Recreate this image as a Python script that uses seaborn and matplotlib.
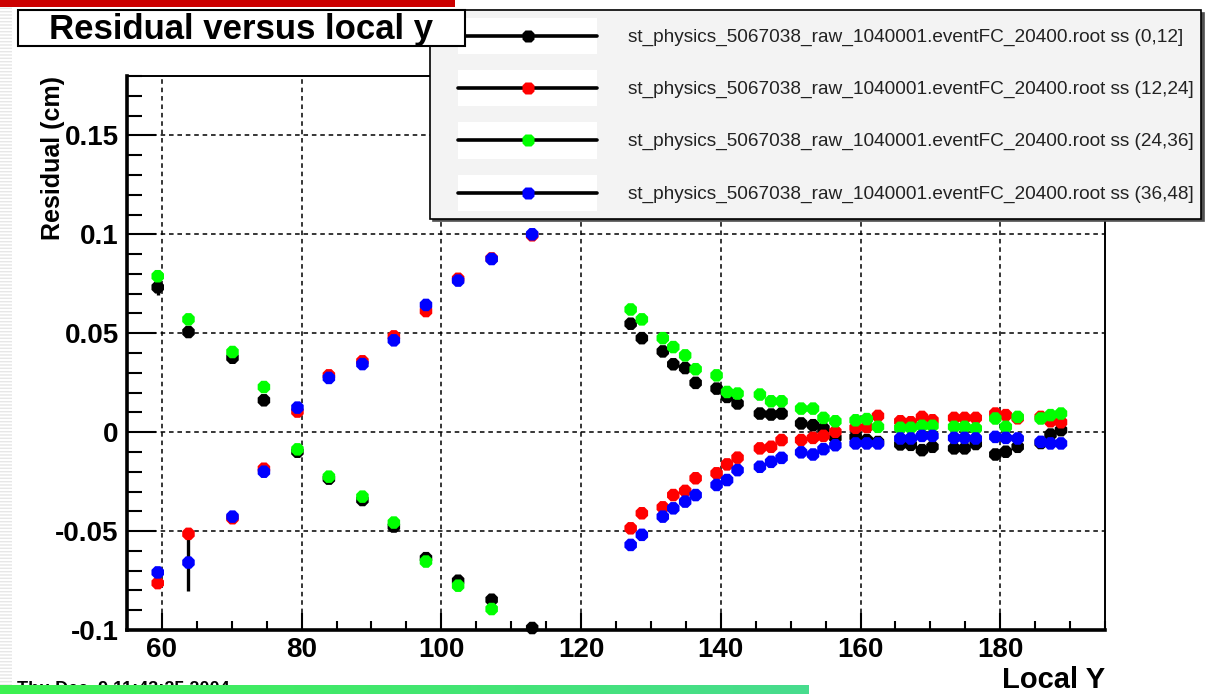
import numpy as np
import pandas as pd
import matplotlib
matplotlib.use("Agg")
import matplotlib.pyplot as plt
import seaborn as sns
from matplotlib.patches import Rectangle
from matplotlib.lines import Line2D
from matplotlib.legend_handler import HandlerBase
from matplotlib.ticker import MultipleLocator, FixedLocator, FixedFormatter
from matplotlib.colors import LinearSegmentedColormap

# ---------------- data ----------------
local_y = [59.4, 63.8, 70.1, 74.6, 79.4, 83.9, 88.7, 93.2, 97.8, 102.4, 107.2, 113.0,
           127.1, 128.7, 131.7, 133.2, 134.9, 136.4, 139.4, 140.9, 142.4, 145.6, 147.2, 148.7,
           151.5, 153.2, 154.7, 156.4, 159.3, 160.9, 162.5, 165.7, 167.2, 168.8, 170.3,
           173.4, 174.9, 176.5, 179.3, 180.8, 182.5, 185.8, 187.2, 188.7]

res_0_12 = [0.0732, 0.0506, 0.0376, 0.0161, -0.0099, -0.0235, -0.0343, -0.0477, -0.0637, -0.0751, -0.0847, -0.0990,
            0.0548, 0.0475, 0.0408, 0.0343, 0.0324, 0.0249, 0.0220, 0.0178, 0.0145, 0.0094, 0.0089, 0.0094,
            0.0044, 0.0035, 0.0019, -0.0029, -0.0024, -0.0040, -0.0050, -0.0062, -0.0064, -0.0091, -0.0074,
            -0.0082, -0.0082, -0.0060, -0.0113, -0.0099, -0.0074, -0.0055, -0.0012, 0.0010]

res_12_24 = [-0.0763, -0.0514, -0.0435, -0.0185, 0.0104, 0.0287, 0.0358, 0.0484, 0.0612, 0.0775, 0.0878, 0.0995,
             -0.0486, -0.0410, -0.0380, -0.0318, -0.0297, -0.0233, -0.0208, -0.0163, -0.0129, -0.0082, -0.0074, -0.0040,
             -0.0040, -0.0029, -0.0019, 0.0002, 0.0022, 0.0026, 0.0082, 0.0055, 0.0050, 0.0077, 0.0060,
             0.0072, 0.0072, 0.0072, 0.0094, 0.0086, 0.0070, 0.0077, 0.0055, 0.0050]

res_24_36 = [0.0788, 0.0570, 0.0405, 0.0228, -0.0087, -0.0225, -0.0326, -0.0457, -0.0654, -0.0776, -0.0894, np.nan,
             0.0620, 0.0570, 0.0475, 0.0430, 0.0388, 0.0318, 0.0287, 0.0203, 0.0195, 0.0190, 0.0156, 0.0156,
             0.0119, 0.0119, 0.0072, 0.0055, 0.0060, 0.0066, 0.0027, 0.0022, 0.0022, 0.0032, 0.0032,
             0.0027, 0.0027, 0.0019, 0.0069, 0.0027, 0.0077, 0.0069, 0.0086, 0.0094]

res_36_48 = [-0.0709, -0.0659, -0.0427, -0.0200, 0.0124, 0.0274, 0.0344, 0.0464, 0.0643, 0.0766, 0.0875, 0.1000,
             -0.0570, -0.0519, -0.0427, -0.0385, -0.0351, -0.0318, -0.0267, -0.0242, -0.0192, -0.0175, -0.0150, -0.0130,
             -0.0102, -0.0113, -0.0086, -0.0066, -0.0057, -0.0057, -0.0057, -0.0032, -0.0032, -0.0019, -0.0019,
             -0.0029, -0.0029, -0.0032, -0.0024, -0.0029, -0.0032, -0.0049, -0.0057, -0.0057]

# visible error bars: (series index, point index, half-length)
visible_errors = [(0, 0, 0.004), (3, 1, 0.0146)]

prefix = "st_physics_5067038_raw_1040001.eventFC_20400.root ss "
bins = ["(0,12]", "(12,24]", "(24,36]", "(36,48]"]
series_colors = ["#000000", "#ff0000", "#00ff00", "#0000ff"]
series_values = [res_0_12, res_12_24, res_24_36, res_36_48]

x_ticks = [60, 80, 100, 120, 140, 160, 180]
y_ticks = [-0.1, -0.05, 0, 0.05, 0.1, 0.15]
y_tick_labels = ["-0.1", "-0.05", "0", "0.05", "0.1", "0.15"]

title_text = "Residual versus local y"
x_label = "Local Y"
y_label = "Residual (cm)"
date_text = "Thu Dec  9 11:43:25 2004"

# ---------------- build table ----------------
labels = [prefix + b for b in bins]
frames = []
for lab, vals in zip(labels, series_values):
    frames.append(pd.DataFrame({"local_y": local_y, "residual": vals, "bin": lab}))
df = pd.concat(frames, ignore_index=True).dropna()

# ---------------- figure ----------------
sns.set_theme(style="white")
plt.rcParams["font.family"] = ["Liberation Sans", "DejaVu Sans"]

W, H = 1207, 694
fig = plt.figure(figsize=(W / 100, H / 100), dpi=100)
fig.patch.set_facecolor("white")
ax = fig.add_axes([127 / W, 1 - 630 / H, 978 / W, 554 / H])
ax.set_facecolor("white")

# error bars (below the markers)
for si, pi, e in visible_errors:
    ax.errorbar([local_y[pi]], [series_values[si][pi]], yerr=[e], fmt="none",
                ecolor="black", elinewidth=2.4, capsize=0, zorder=0.9)

sns.scatterplot(data=df, x="local_y", y="residual", hue="bin", hue_order=labels,
                palette=series_colors, marker="8", s=95, linewidth=0,
                legend=False, ax=ax, clip_on=False, zorder=2)

ax.set_xlim(55, 195)
ax.set_ylim(-0.1, 0.18)

ax.xaxis.set_major_locator(FixedLocator(x_ticks))
ax.xaxis.set_minor_locator(MultipleLocator(5))
ax.yaxis.set_major_locator(FixedLocator(y_ticks))
ax.yaxis.set_major_formatter(FixedFormatter(y_tick_labels))
ax.yaxis.set_minor_locator(MultipleLocator(0.01))

ax.tick_params(axis="y", which="major", direction="in", length=21, width=1.5,
               labelsize=20, pad=6, left=True, right=False, color="black")
ax.tick_params(axis="y", which="minor", direction="in", length=10.5, width=1.5,
               left=True, right=False, color="black")
ax.tick_params(axis="x", which="major", direction="in", length=12, width=1.5,
               labelsize=20, pad=5, bottom=True, top=False, color="black")
ax.tick_params(axis="x", which="minor", direction="in", length=6.5, width=1.5,
               bottom=True, top=False, color="black")
for lbl in ax.get_xticklabels() + ax.get_yticklabels():
    lbl.set_fontweight("bold")
    lbl.set_color("black")

ax.grid(True, which="major", linestyle=(0, (3, 2.5)), color="black", linewidth=1.1)
ax.grid(False, which="minor")
ax.set_axisbelow(True)

for side, sp in ax.spines.items():
    sp.set_color("black")
    sp.set_linewidth(2.6 if side in ("left", "bottom") else 1.4)

ax.set_xlabel(x_label, fontsize=21, fontweight="bold", loc="right", labelpad=2, color="black")
ax.set_ylabel(y_label, fontsize=18, fontweight="bold", loc="top", color="black")
ax.yaxis.set_label_coords(-0.063, 1.0)


# ---------------- legend (ROOT-like) ----------------
class RootHandler(HandlerBase):
    def create_artists(self, legend, orig_handle, xdescent, ydescent, width, height, fontsize, trans):
        off = 0.13 * width
        x0 = off - xdescent
        x1 = width - xdescent
        yc = height / 2 - ydescent
        rect = Rectangle((x0, -ydescent), width - off, height, facecolor="white",
                         edgecolor="none", transform=trans)
        line = Line2D([x0, x1], [yc, yc], color="black", lw=2.6, transform=trans)
        mk = Line2D([(x0 + x1) / 2], [yc], marker="8", ms=9.5, linestyle="none",
                    markerfacecolor=orig_handle.get_markerfacecolor(), markeredgecolor="none",
                    transform=trans)
        return [rect, line, mk]


handles = [Line2D([], [], marker="8", markerfacecolor=c, color="black") for c in series_colors]
leg = fig.legend(handles, labels, loc="upper left",
                 bbox_to_anchor=(430 / W, 1 - 10 / H), bbox_transform=fig.transFigure,
                 fontsize=13.7, handlelength=8.4, handleheight=2.55, handletextpad=1.58,
                 borderpad=0.4, labelspacing=0.85, borderaxespad=0,
                 frameon=True, fancybox=False, framealpha=1,
                 shadow={"color": "#505050", "alpha": 1},
                 handler_map={Line2D: RootHandler()})
leg.get_frame().set_facecolor("#f3f3f3")
leg.get_frame().set_edgecolor("black")
leg.get_frame().set_linewidth(1.2)
for t in leg.get_texts():
    t.set_color("#222222")
leg.set_zorder(5)

# ---------------- title box ----------------
fig.add_artist(Rectangle((18 / W, 1 - 46 / H), 447 / W, 36 / H, transform=fig.transFigure,
                         facecolor="white", edgecolor="black", linewidth=1.5, zorder=6))
fig.text((18 + 465) / 2 / W, 1 - 29 / H, title_text, ha="center", va="center",
         fontsize=25, fontweight="bold", color="black", zorder=7)

# ---------------- decorations of the page ----------------
fig.add_artist(Rectangle((0, 1 - 7 / H), 455 / W, 7 / H, transform=fig.transFigure,
                         facecolor="#cc0000", edgecolor="none", zorder=8))
fig.add_artist(Rectangle((0, 0), 12 / W, 1, transform=fig.transFigure, facecolor="none",
                         edgecolor="#e6e6e6", hatch="-----", linewidth=0, zorder=1))
fig.text(17 / W, 1 - 681 / H, date_text, ha="left", va="top", fontsize=13,
         fontweight="bold", color="black", zorder=2)
gax = fig.add_axes([0, 0, 808 / W, 9 / H])
gcmap = LinearSegmentedColormap.from_list("bar", ["#3cf250", "#48dc8e"])
gax.imshow(np.linspace(0, 1, 256)[None, :], aspect="auto", cmap=gcmap)
gax.axis("off")
gax.set_zorder(10)

fig.savefig("out.png", dpi=100)
